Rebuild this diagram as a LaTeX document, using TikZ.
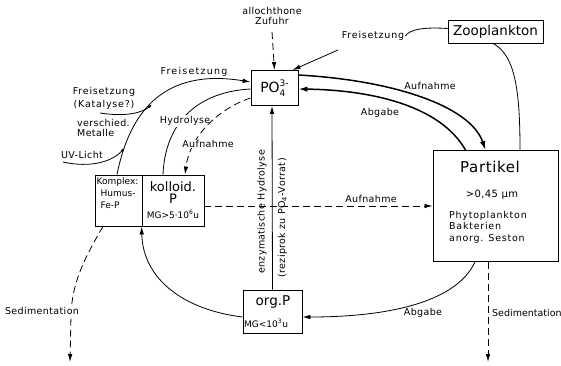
\documentclass[tikz,border=0pt]{standalone}
\usepackage{fontspec}
\setmainfont{DejaVu Sans}
\newfontfamily\labfont[LetterSpace=4]{DejaVu Sans}
\newfontfamily\widefont[LetterSpace=8]{DejaVu Sans}
\newfontfamily\widerfont[LetterSpace=13]{DejaVu Sans}
\usetikzlibrary{arrows.meta}
\begin{document}
\begin{tikzpicture}[x=1pt,y=-1pt,
  box/.style={draw,line width=0.9pt,inner sep=0pt},
  lbl/.style={font=\labfont\fontsize{9.5}{11}\selectfont,inner sep=1pt},
  sml/.style={font=\fontsize{9}{12}\selectfont,inner sep=0.5pt},
  conn/.style={line width=0.8pt},
  heavy/.style={line width=1.5pt},
  dsh/.style={dash pattern=on 7pt off 4pt},
  tip/.style={-{Latex[length=8pt,width=4.5pt]}},
  htip/.style={-{Latex[length=9pt,width=5.5pt]}},
  stip/.style={-{Latex[length=4pt,width=3pt]}},
]
\useasboundingbox[fill=white] (0,0) rectangle (561,365);

% boxes
\node[box,minimum width=47pt,minimum height=35pt,font=\fontsize{14}{14}\selectfont] (po4) at (274.5,88) {PO\makebox[0pt][l]{\raisebox{-4pt}{\fontsize{9}{9}\selectfont 4}}\raisebox{6.5pt}{\fontsize{9}{9}\selectfont 3-}};
\node[box,minimum width=95pt,minimum height=23pt,font=\fontsize{13.5}{14}\selectfont] (zoo) at (495.5,31.5) {Zooplankton};
\node[box,minimum width=125pt,minimum height=111pt] (part) at (495.5,206) {};
\node[box,minimum width=47pt,minimum height=51pt] (komplex) at (118.5,200.5) {};
\node[box,minimum width=62pt,minimum height=51pt] (kolloid) at (173,200.5) {};
\node[box,minimum width=59pt,minimum height=43pt] (orgp) at (272.5,311.5) {};

% box texts
\node[font=\labfont\fontsize{15}{15}\selectfont,inner sep=0pt] (partt) at (490,167) {Partikel};
\node[lbl,font=\labfont\fontsize{10}{11}\selectfont] (partsz) at (492,195) {>0,45 µm};
\node[lbl,anchor=north west,align=left,font=\widefont\fontsize{9.5}{11.5}\selectfont] (partl) at (448,210) {Phytoplankton\\Bakterien\\anorg. Seston};
\node[sml,anchor=north west,align=left] (komt) at (96,177) {Komplex:\\\hspace{4pt}Humus-\\\hspace{4pt}Fe-P};
\node[font=\fontsize{13}{13}\selectfont,inner sep=0pt] (kolt) at (173,187) {kolloid.};
\node[font=\fontsize{13}{13}\selectfont,inner sep=0pt] (kolp) at (173,199) {P};
\node[sml] (kolmg) at (173,214) {MG>5·10\textsuperscript{6}u};
\node[font=\fontsize{13.5}{13.5}\selectfont,inner sep=0pt] (orgt) at (273,302) {org.P};
\node[sml,anchor=west] (orgmg) at (243.5,323) {MG<10\textsuperscript{3}u};

% labels
\node[lbl,align=center,font=\labfont\fontsize{9.5}{10.5}\selectfont] (alloc) at (272,16) {allochthone\\Zufuhr};
\coordinate (allocend) at (272,32);
\node[lbl,font=\widefont\fontsize{9.5}{11}\selectfont] (freiZ) at (373,36) {Freisetzung};
\node[lbl,font=\widerfont\fontsize{9.5}{11}\selectfont] (freiT) at (194,72) {Freisetzung};
\node[lbl,align=center,font=\widefont\fontsize{9.5}{13}\selectfont] (freiK) at (104,98) {Freisetzung\\(Katalyse?)};
\node[lbl,anchor=west,align=left,font=\labfont\fontsize{9.5}{10.5}\selectfont] (metal) at (76,128) {verschied.\\Metalle};
\node[lbl] (uv) at (82,155) {UV-Licht};
\node[lbl] (aufR) at (430,86) {Aufnahme};
\node[lbl] (abgR) at (380,113) {Abgabe};
\node[lbl] (aufM) at (371,199) {Aufnahme};
\node[lbl] (abgB) at (423,313) {Abgabe};
\node[lbl,anchor=west,font=\fontsize{9.5}{11}\selectfont] (sedR) at (491,313) {Sedimentation};

% connectors
\draw[conn,dsh,tip] (allocend) -- (po4.north);
\draw[conn] ([yshift=3pt]zoo.west) .. controls (425,27) and (410,29) .. (freiZ.east);
\coordinate (fzs) at (338,50);
\draw[conn,tip] (fzs) -- ([xshift=-6pt]po4.north east);
\draw[heavy,htip] ([yshift=13pt]po4.east) .. controls (390,80) and (470,105) .. ([xshift=-10pt]part.north);
\draw[heavy,htip] ([xshift=-30pt]part.north) .. controls (440,105) and (370,90) .. ([yshift=-1pt]po4.east);
\draw[conn] ([xshift=-2.5pt]zoo.south) .. controls (515,55) and (520,90) .. ([xshift=24.5pt]part.north);

% Freisetzung main
\draw[conn,tip] ([xshift=-1.5pt]komplex.north) .. controls (130,110) and (165,68) .. ([yshift=6pt]po4.west);
\coordinate (katS) at (100,113);
\coordinate (katJ) at (152,104.5);
\draw[conn,stip] (katS) .. controls (125,117) and (142,113) .. (katJ);
\coordinate (uvS) at (63,162);
\coordinate (uvJ) at (124.5,148);
\draw[conn,stip] (uvS) .. controls (90,168) and (112,162) .. (uvJ);
% Hydrolyse
\draw[conn] ([xshift=-10pt]kolloid.north) .. controls (165,125) and (195,92) .. ([yshift=-1pt]po4.west);
\node[lbl,fill=white] (hyd) at (185,121) {Hydrolyse};
% Aufnahme dashed to kolloid
\draw[conn,dsh,tip] ([yshift=-10pt]po4.west) .. controls (220,108) and (190,135) .. ([xshift=12pt]kolloid.north);
\node[lbl,fill=white,inner sep=0.5pt] (aufL) at (208,144) {Aufnahme};
% vertical enzymatic
\draw[conn,tip] (orgp.north) -- ([xshift=-2.5pt]po4.south);
\node[lbl,rotate=90] (enz) at (262,212) {enzymatische Hydrolyse};
\node[lbl,rotate=90] (rez) at (282.5,218) {(reziprok zu PO\textsubscript{4}-Vorrat)};
% Aufnahme dashed to Partikel
\draw[conn,dsh,tip] (kolloid.east |- part.west) -- (part.west);
% Abgabe to org.P
\draw[conn,tip] ([xshift=-20.5pt]part.south) .. controls (455,305) and (380,317) .. ([yshift=-5.5pt]orgp.east);
% org.P to kolloid
\draw[conn,tip] ([yshift=-5.5pt]orgp.west) .. controls (185,310) and (143,280) .. (kolloid.south west);
% Sedimentation right
\coordinate (sedRend) at (488,362);
\draw[conn,dsh,tip] ([xshift=-7.5pt]part.south) -- (sedRend);
% Sedimentation left
\coordinate (sedLend) at (70,362);
\draw[conn,dsh,tip] ([xshift=-15.5pt]komplex.south) .. controls (82,262) and (72,285) .. (71,315) -- (sedLend);
\node[lbl,fill=white,inner sep=1.5pt] (sedL) at (42,311) {Sedimentation};
\end{tikzpicture}
\end{document}
